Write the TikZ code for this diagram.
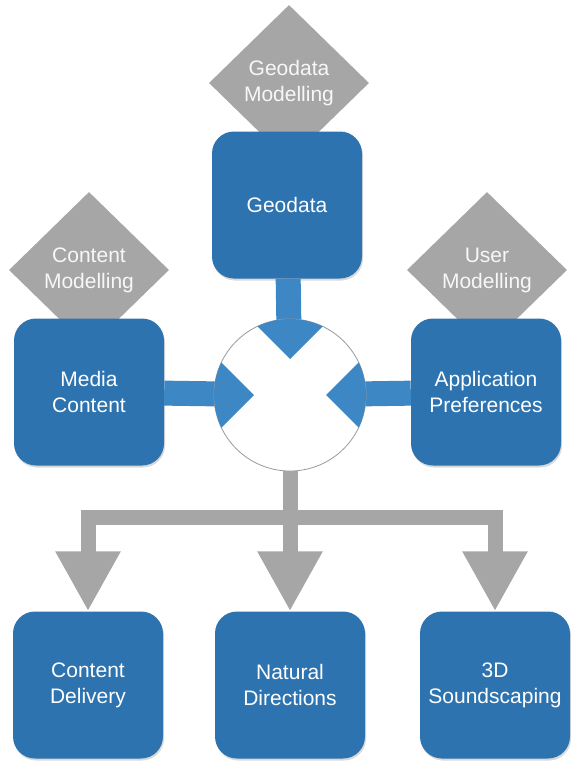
\documentclass[tikz,border=0pt]{standalone}
\usepackage{fontspec}
\setmainfont{Liberation Sans}
\usepackage{tikz}
\usetikzlibrary{shapes.geometric,arrows.meta,shadows}

\definecolor{boxblue}{HTML}{2D73AF}
\definecolor{flowblue}{HTML}{3D87C5}
\definecolor{modelgray}{HTML}{A6A6A6}
\definecolor{ringgray}{HTML}{9A9A9A}

\tikzset{
	datanode/.style={shape=rectangle,rounded corners=22pt,fill=boxblue,text=white,align=center,
		minimum width=150pt,minimum height=147pt,font=\fontsize{21}{26}\selectfont,
		drop shadow={shadow xshift=1pt,shadow yshift=-2pt,opacity=0.3}},
	modelnode/.style={shape=diamond,fill=modelgray,text=white!94!gray,align=center,
		minimum width=160pt,minimum height=156pt,inner sep=0pt,font=\fontsize{21}{26}\selectfont},
	hubnode/.style={shape=circle,draw=ringgray,fill=white,line width=0.8pt,minimum size=152pt,inner sep=0pt},
	inflow/.style={draw=flowblue,line width=25pt},
	outflow/.style={draw=modelgray,line width=15pt,-{Triangle[width=61pt,length=60pt]}}
}

\begin{document}
\begin{tikzpicture}[x=1pt,y=-1pt]
	\useasboundingbox (0,0) rectangle (570,765);

	\node[modelnode] (geomod)  at (289, 83)  {Geodata\\Modelling};
	\node[modelnode] (conmod)  at (89, 270)  {Content\\Modelling};
	\node[modelnode] (usermod) at (487, 270) {User\\Modelling};

	\node[datanode] (geo)   at (287, 205) {Geodata};
	\node[datanode] (media) at (89, 392)  {Media\\Content};
	\node[datanode] (app)   at (486, 392) {Application\\Preferences};

	\coordinate (hub) at (290, 395);
	\path[inflow] (geo) edge (hub);
	\path[inflow] (media) edge (hub);
	\path[inflow] (app) edge (hub);

	\node[hubnode] (mix) at (hub) {};
	\begin{scope}
		\clip (mix.center) circle (76pt);
		\fill[flowblue] (mix.center) ++(0,-36) -- ++(-90,-90) -- ++(180,0) -- cycle;
		\fill[flowblue] (mix.center) ++(-36,0) -- ++(-90,-90) -- ++(0,180) -- cycle;
		\fill[flowblue] (mix.center) ++(36,0) -- ++(90,-90) -- ++(0,180) -- cycle;
	\end{scope}

	\node[datanode] (delivery)   at (88, 685)  {Content\\Delivery};
	\node[datanode] (directions) at (290, 685) {Natural\\Directions};
	\node[datanode] (sound)      at (495, 685) {3D\\Soundscaping};

	\coordinate (split) at (290, 517);
	\draw[outflow] (mix.south) -- (directions.north);
	\draw[outflow] (split) -| (delivery.north);
	\draw[outflow] (split) -| (sound.north);

\end{tikzpicture}
\end{document}
